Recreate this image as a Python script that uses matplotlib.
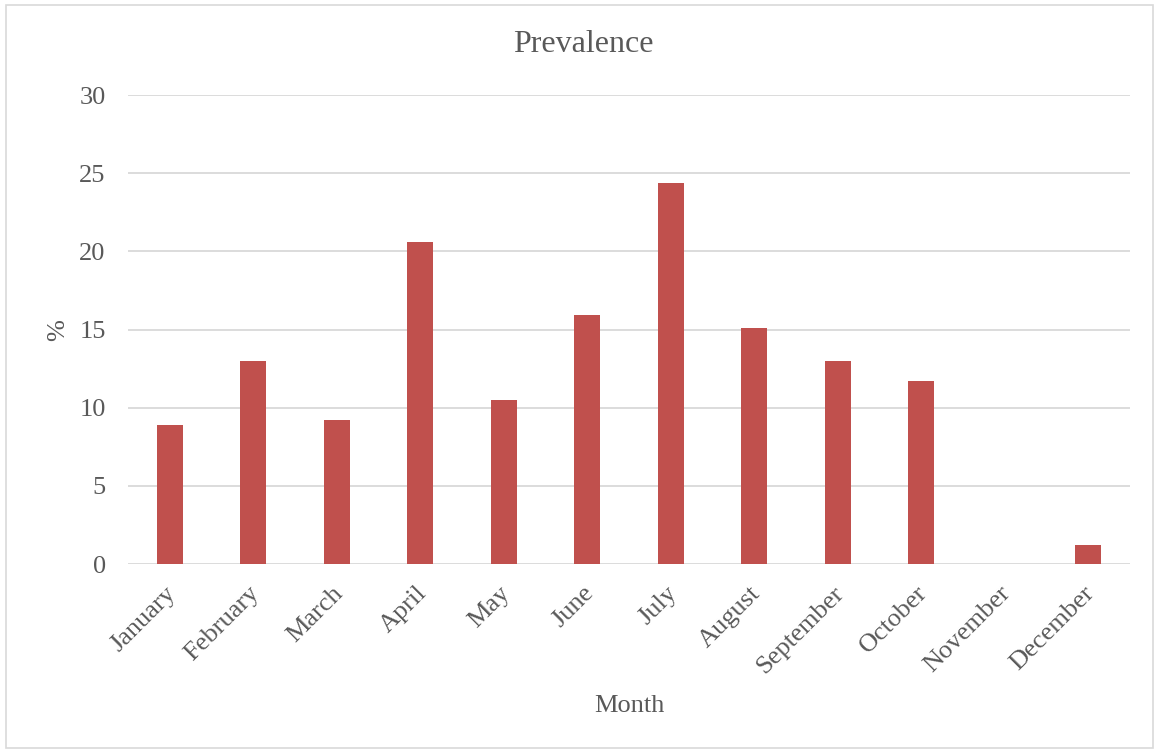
import numpy as np
import matplotlib.pyplot as plt
from matplotlib.patches import Rectangle
from matplotlib.transforms import ScaledTranslation

months = ["January", "February", "March", "April", "May", "June", "July",
          "August", "September", "October", "November", "December"]
prevalence = [8.9, 13.0, 9.2, 20.6, 10.5, 15.9, 24.4, 15.1, 13.0, 11.7, 0.0, 1.2]
yticks = [0, 5, 10, 15, 20, 25, 30]

plt.rcParams['font.family'] = ['Liberation Serif', 'DejaVu Serif']
textcol = '#595959'
fontsize = 19

fig = plt.figure(figsize=(11.57, 7.51), dpi=100)
ax = fig.add_axes([0.1106, 0.249, 0.866, 0.6245])

x = np.arange(len(months))
ax.bar(x, prevalence, width=0.31, color='#C0504D', zorder=3)

ax.set_xlim(-0.5, len(months) - 0.5)
ax.set_ylim(0, 30)
ax.set_yticks(yticks)
ax.set_xticks(x)
ax.set_xticklabels(months, rotation=45, ha='right', rotation_mode='anchor')
ax.grid(axis='y', color='#D9D9D9', linewidth=1.3, zorder=0)
for s in ax.spines.values():
    s.set_visible(False)
ax.tick_params(length=0, labelsize=fontsize, colors=textcol)
ax.tick_params(axis='x', pad=13)
ax.tick_params(axis='y', pad=16)
# nudge rotated month labels a little to the left
shift = ScaledTranslation(-5 / 100, 0, fig.dpi_scale_trans)
for lab in ax.get_xticklabels():
    lab.set_transform(lab.get_transform() + shift)

# title, axis labels placed in figure coords
fig.text(583 / 1157, 1 - 45 / 751, "Prevalence", fontsize=23, color=textcol,
         ha='center', va='center')
fig.text(629 / 1157, 1 - 706 / 751, "Month", fontsize=fontsize, color=textcol,
         ha='center', va='center')
fig.text(58 / 1157, 1 - 330 / 751, "%", fontsize=fontsize, color=textcol,
         ha='center', va='center', rotation=90)

fig.patches.append(Rectangle((6 / 1157, 3 / 751), 1147 / 1157, 743 / 751,
                             transform=fig.transFigure, fill=False,
                             edgecolor='#D9D9D9', linewidth=1.2))

fig.savefig("out.png", dpi=100)
